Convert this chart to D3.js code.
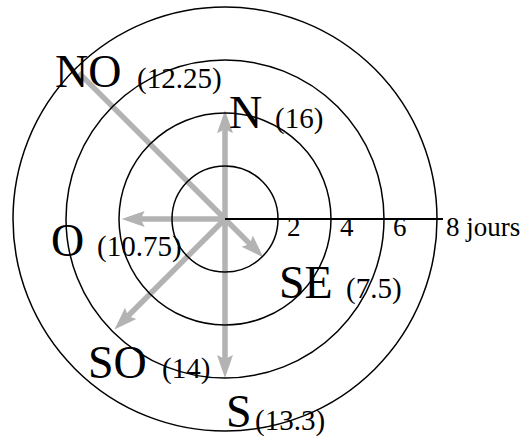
<!DOCTYPE html>
<html>
<head>
<meta charset="utf-8">
<script src="https://cdn.jsdelivr.net/npm/d3@7"></script>
<style>
html,body{margin:0;padding:0;background:#fff;}
svg{display:block;}
</style>
</head>
<body>
<svg id="chart" width="525" height="438"></svg>
<script>
// ---- data ----
const directions = ["N", "NO", "O", "SO", "S", "SE"];
const bearings = [0, 315, 270, 225, 180, 135];          // compass degrees
const arrowLengths = [4.1, 7.8, 3.9, 5.9, 6, 2.05];     // in jours
const counts = ["(16)", "(12.25)", "(10.75)", "(14)", "(13.3)", "(7.5)"];
const hasHead = [true, false, true, true, true, true];
const ringValues = [2, 4, 6, 8];
const tickLabels = ["2", "4", "6", "8 jours"];

// ---- layout ----
const cx = 225, cy = 219;
const labelPos = {
  N:  {x: 229, y: 128, cx: 275, cy: 128},
  NO: {x: 55,  y: 87,  cx: 137, cy: 88},
  O:  {x: 51,  y: 256, cx: 97,  cy: 256},
  SO: {x: 88,  y: 378, cx: 162, cy: 378},
  S:  {x: 226, y: 427, cx: 255, cy: 430},
  SE: {x: 279, y: 298, cx: 346, cy: 298}
};

const r = d3.scaleLinear().domain([0, 8]).range([0, 212]);
const svg = d3.select("#chart");
const g = svg.append("g").attr("transform", `translate(${cx},${cy})`);
const gray = "#b3b3b3";
const serif = "'Liberation Serif', 'Times New Roman', serif";

const data = directions.map((d, i) => ({
  dir: d, bearing: bearings[i], len: arrowLengths[i], count: counts[i], head: hasHead[i]
}));
const rad = d => d.bearing * Math.PI / 180;

// arrows (shafts)
g.selectAll("line.arrow").data(data).join("line")
  .attr("class", "arrow")
  .attr("x1", 0).attr("y1", 0)
  .attr("x2", d => (r(d.len) - (d.head ? 16 : 0)) * Math.sin(rad(d)))
  .attr("y2", d => -(r(d.len) - (d.head ? 16 : 0)) * Math.cos(rad(d)))
  .attr("stroke", gray)
  .attr("stroke-width", 5.5);

// arrow heads
g.selectAll("path.head").data(data.filter(d => d.head)).join("path")
  .attr("class", "head")
  .attr("d", "M0,0 L-23,-8 L-19,0 L-23,8 Z")
  .attr("fill", gray)
  .attr("transform", d => {
    const x = r(d.len) * Math.sin(rad(d)), y = -r(d.len) * Math.cos(rad(d));
    return `translate(${x},${y}) rotate(${d.bearing - 90})`;
  });

// rings
g.selectAll("circle.ring").data(ringValues).join("circle")
  .attr("class", "ring")
  .attr("r", d => r(d))
  .attr("fill", "none")
  .attr("stroke", "#000")
  .attr("stroke-width", 1.5);

// axis line
g.append("line")
  .attr("x1", 0).attr("y1", 0)
  .attr("x2", r(8) + 6).attr("y2", 0)
  .attr("stroke", "#000").attr("stroke-width", 2);

// tick labels
g.selectAll("text.tick").data(ringValues).join("text")
  .attr("class", "tick")
  .attr("x", d => r(d) + 9)
  .attr("y", 17)
  .attr("font-family", serif)
  .attr("font-size", 27)
  .attr("fill", "#000")
  .text((d, i) => tickLabels[i]);

// direction labels
const lab = svg.append("g").attr("font-family", serif).attr("fill", "#000");
lab.selectAll("text.dir").data(data).join("text")
  .attr("class", "dir")
  .attr("x", d => labelPos[d.dir].x)
  .attr("y", d => labelPos[d.dir].y)
  .attr("font-size", 46)
  .text(d => d.dir);
lab.selectAll("text.cnt").data(data).join("text")
  .attr("class", "cnt")
  .attr("x", d => labelPos[d.dir].cx)
  .attr("y", d => labelPos[d.dir].cy)
  .attr("font-size", 29)
  .text(d => d.count);
</script>
</body>
</html>
